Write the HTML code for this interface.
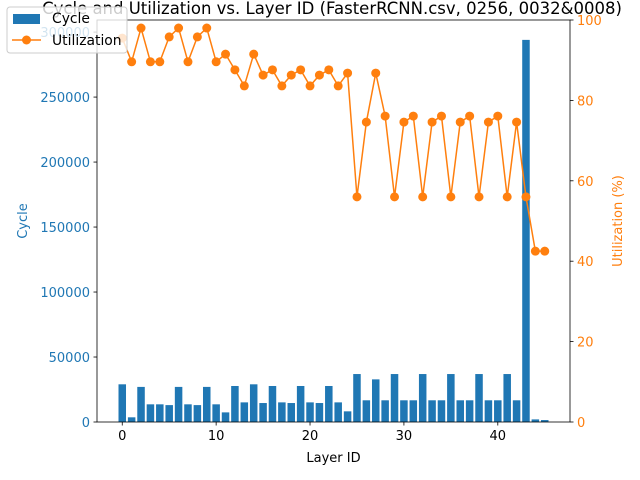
<!DOCTYPE html>
<html><head><meta charset="utf-8"><style>
body{margin:0;background:#fff}
svg{display:block;font-family:"DejaVu Sans","Liberation Sans",sans-serif}
</style></head><body>
<svg id="chart" width="640" height="480" viewBox="0 0 640 480">
<rect width="640" height="480" fill="#fff"/>
<g id="bars"></g>
<g id="line"></g>
<g id="axes"></g>
<text x="332" y="14" font-size="16.5" text-anchor="middle">Cycle and Utilization vs. Layer ID (FasterRCNN.csv, 0256, 0032&amp;0008)</text>
<g>
<rect x="7" y="7" width="120" height="46" rx="3" fill="#fff" fill-opacity="0.8" stroke="#ccc"/>
<rect x="13" y="14" width="27" height="10" fill="#1f77b4"/>
<text x="52" y="23" font-size="13.9">Cycle</text>
<line x1="12" y1="40" x2="41" y2="40" stroke="#ff7f0e" stroke-width="1.5"/>
<circle cx="26.5" cy="40" r="4.5" fill="#ff7f0e"/>
<text x="52" y="45" font-size="13.9">Utilization</text>
</g>
</svg>
<script>
const layers = Array.from({length:46},(_, i)=>i);
const cycles = [29000,3600,27000,13600,13600,13000,27000,13600,13000,27000,13600,7400,27700,15100,29000,14600,27700,15100,14600,27700,15100,14600,27700,15100,8200,36900,16700,32800,16700,36900,16700,16700,36900,16700,16700,36900,16700,16700,36900,16700,16700,36900,16700,294000,2000,1500];
const utilization = [95.5,89.6,98,89.6,89.6,95.8,98,89.6,95.8,98,89.6,91.5,87.6,83.6,91.5,86.3,87.6,83.6,86.3,87.6,83.6,86.3,87.6,83.6,86.8,56,74.6,86.8,76.1,56,74.6,76.1,56,74.6,76.1,56,74.6,76.1,56,74.6,76.1,56,74.6,56,42.5,42.5];
const leftTicks = [0,50000,100000,150000,200000,250000,300000];
const rightTicks = [0,20,40,60,80,100];
const xTicks = [0,10,20,30,40];

const L=97,R=570,T=20,B=422;
const xMin=-2.69,xMax=47.69,yMax=309300,uMax=100;
const X=v=>L+(v-xMin)/(xMax-xMin)*(R-L);
const Y=v=>B-v/yMax*(B-T);
const U=v=>B-v/uMax*(B-T);
const NS="http://www.w3.org/2000/svg";
function mk(tag,attrs,parent,text){const e=document.createElementNS(NS,tag);for(const k in attrs)e.setAttribute(k,attrs[k]);if(text!==undefined)e.textContent=text;parent.appendChild(e);return e;}
const bars=document.getElementById('bars'),line=document.getElementById('line'),axes=document.getElementById('axes');
const bw=X(0.4)-X(-0.4);
layers.forEach((l,i)=>{
  const r=mk('rect',{x:X(l)-bw/2,y:Y(cycles[i]),width:bw,height:B-Y(cycles[i]),fill:'#1f77b4'},bars);
  
  
});
const pts=layers.map((l,i)=>X(l)+','+U(utilization[i])).join(' ');
const pl=mk('polyline',{points:pts,fill:'none',stroke:'#ff7f0e','stroke-width':1.5},line);


layers.forEach((l,i)=>{
  const c=mk('circle',{cx:X(l),cy:U(utilization[i]),r:4.5,fill:'#ff7f0e'},line);
  
  
});
mk('rect',{x:L,y:T,width:R-L,height:B-T,fill:'none',stroke:'#000','stroke-width':0.8},axes);
xTicks.forEach(t=>{
  mk('line',{x1:X(t),x2:X(t),y1:B,y2:B+3.5,stroke:'#000','stroke-width':0.8},axes);
  const tx=mk('text',{x:X(t),y:B+18,'font-size':13,'text-anchor':'middle'},axes,t);
  
  
});
leftTicks.forEach(t=>{
  mk('line',{x1:L-3.5,x2:L,y1:Y(t),y2:Y(t),stroke:'#000','stroke-width':0.8},axes);
  const tx=mk('text',{x:L-7,y:Y(t)+5,'font-size':13,'text-anchor':'end',fill:'#1f77b4'},axes,t);
  
  
});
rightTicks.forEach(t=>{
  mk('line',{x1:R,x2:R+3.5,y1:U(t),y2:U(t),stroke:'#000','stroke-width':0.8},axes);
  const tx=mk('text',{x:R+7,y:U(t)+5,'font-size':13,fill:'#ff7f0e'},axes,t);
  
  
});
const xl=mk('text',{x:(L+R)/2,y:462,'font-size':13,'text-anchor':'middle'},axes,'Layer ID');


const yl=mk('text',{x:0,y:0,'font-size':13,'text-anchor':'middle',fill:'#1f77b4',transform:'translate(27,221) rotate(-90)'},axes,'Cycle');


const yr=mk('text',{x:0,y:0,'font-size':13,'text-anchor':'middle',fill:'#ff7f0e',transform:'translate(622,221) rotate(-90)'},axes,'Utilization (%)');


</script>
</body></html>
